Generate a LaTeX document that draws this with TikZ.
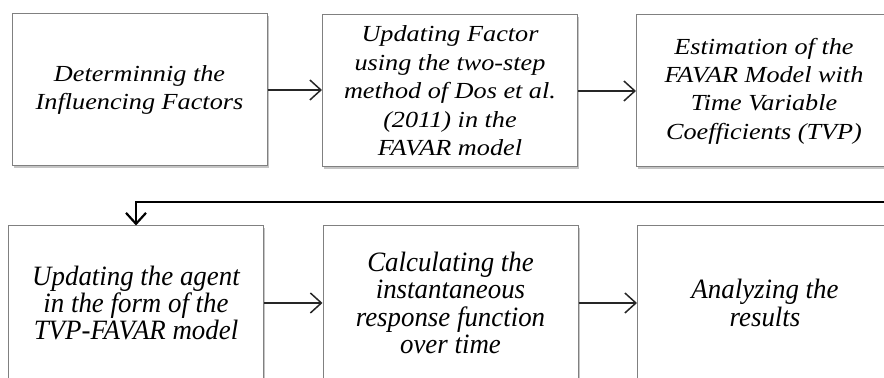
\documentclass[tikz,border=0pt]{standalone}
\usepackage{fontspec}
\setmainfont{Liberation Serif}[ItalicFont={Liberation Serif Italic}]
\newfontfamily\wideserif{Liberation Serif}[ItalicFont={Liberation Serif Italic}, FakeStretch=1.14]
\newfontfamily\narrowserif{Liberation Serif}[ItalicFont={Liberation Serif Italic}, FakeStretch=0.96]
\usetikzlibrary{positioning,arrows.meta,shadows}

\begin{document}
\begin{tikzpicture}[
        x=0.5pt, y=-0.5pt,
        % Style for the step boxes
        stagebox/.style={
            rectangle,
            draw=black!50,
            line width=0.5pt,
            fill=white,
            minimum width=127.5pt,
            minimum height=76pt,
            inner sep=0pt,
            align=center,
            drop shadow={shadow xshift=0.8pt, shadow yshift=-1.2pt, fill=black!45, opacity=0.5}
        },
        % Upper row text (wide)
        upperbox/.style={
            stagebox,
            font=\wideserif\fontsize{11.5}{14.2}\selectfont\itshape
        },
        % Lower row text (narrow)
        lowerbox/.style={
            stagebox,
            minimum height=77pt,
            font=\narrowserif\fontsize{14}{13.6}\selectfont\itshape
        },
        % Arrows between boxes
        flow/.style={
            draw=black!85,
            line width=0.75pt,
            -{Straight Barb[length=5.5pt,width=10pt]}
        },
        % Arrow from the first row back to the second
        loopback/.style={
            flow,
            draw=black,
            line width=1.1pt
        }
    ]

        \useasboundingbox (0,0) rectangle (884,378);
        \clip (0,0) rectangle (884,378);

        % --- FIRST ROW ---
        \node[upperbox] (box1) at (139.5, 90) {Determinnig the\\Influencing Factors};
        \node[upperbox] (box2) at (450, 91) {Updating Factor\\using the two-step\\method of Dos et al.\\(2011) in the\\FAVAR model};
        \node[upperbox] (box3) at (764, 91) {Estimation of the\\FAVAR Model with\\Time Variable\\Coefficients (TVP)};

        % --- SECOND ROW ---
        \node[lowerbox] (box4) at (136, 303) {Updating the agent\\in the form of the\\TVP-FAVAR model};
        \node[lowerbox] (box5) at (450.5, 303) {Calculating the\\instantaneous\\response function\\over time};
        \node[lowerbox] (box6) at (765, 303) {Analyzing the\\results};

        % --- ARROWS ---
        \draw[flow] (box1.east) -- (box2.west |- box1.east);
        \draw[flow] (box2) -- (box3);
        \draw[flow] (box4) -- (box5);
        \draw[flow] (box5) -- (box6);

        % back to the second row
        \coordinate (bend) at (136, 202);
        \draw[loopback] (box3.east) -- ++(20,0) |- (bend) -- (box4.north);

\end{tikzpicture}
\end{document}
